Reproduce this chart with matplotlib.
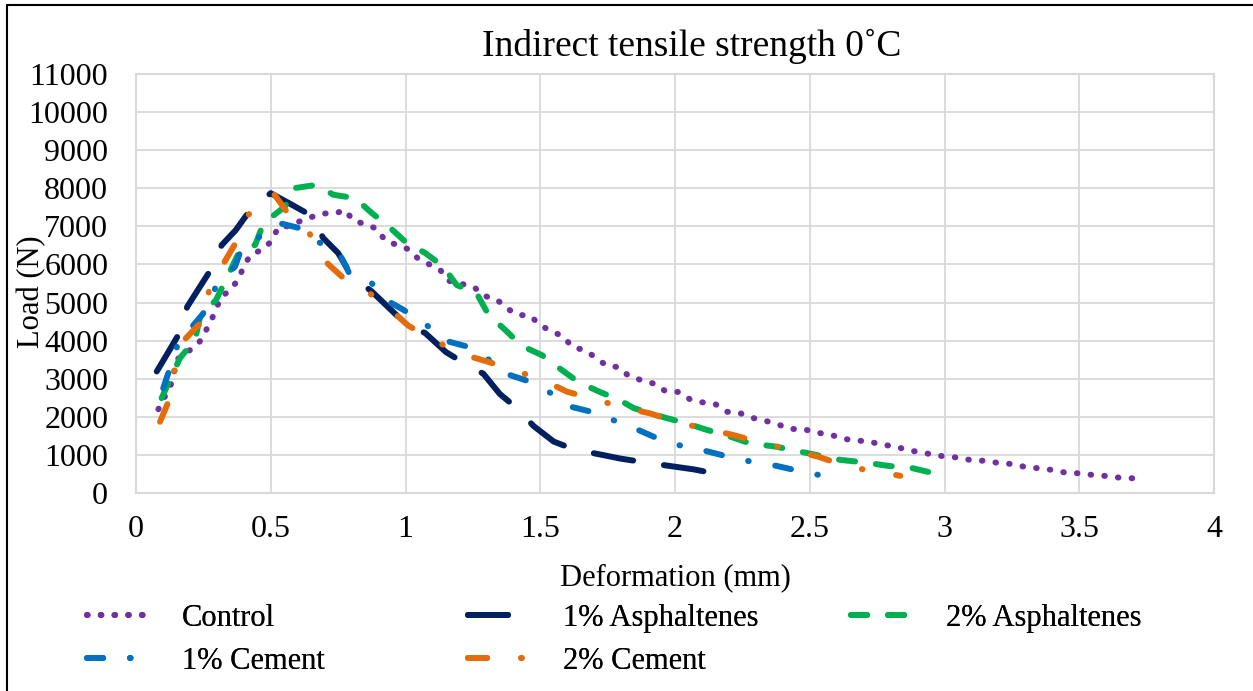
import matplotlib
matplotlib.use("Agg")
import matplotlib.pyplot as plt
from matplotlib.patches import Rectangle

plt.rcParams["font.family"] = ["Liberation Serif", "DejaVu Serif"]

# deformation (mm) / load (N)
ctrl_x = [0.083, 0.129, 0.153, 0.231, 0.256, 0.281, 0.315, 0.354, 0.383, 0.40, 0.427, 0.472,
          0.506, 0.527, 0.568, 0.612, 0.69, 0.735, 0.776, 0.807, 0.854, 0.895, 0.924, 0.969,
          1.011, 1.045, 1.088, 1.129, 1.16, 1.21, 1.253, 1.29, 1.338, 1.373, 1.414, 1.463,
          1.499, 1.542, 1.585, 1.618, 1.665, 1.705, 1.744, 1.793, 1.828, 1.877, 1.923, 1.964,
          2.014, 2.054, 2.101, 2.149, 2.192, 2.24, 2.285, 2.334, 2.381, 2.428, 2.477, 2.524,
          2.574, 2.618, 2.668, 2.717, 2.767, 2.816, 2.861, 2.912, 2.96, 3.009, 3.058, 3.106,
          3.157, 3.205, 3.255, 3.304, 3.354, 3.401, 3.45, 3.502, 3.551, 3.601, 3.65, 3.70]
ctrl_y = [2200, 2835, 3510, 3910, 4220, 4560, 5136, 5360, 5650, 5966, 6265, 6396,
          6640, 6974, 7008, 7147, 7341, 7331, 7428, 7147, 7052, 6929, 6632, 6509,
          6400, 6165, 6003, 5853, 5572, 5486, 5415, 5179, 5084, 4864, 4680, 4654,
          4409, 4243, 4113, 3840, 3745, 3562, 3352, 3299, 3071, 2958, 2869, 2677,
          2651, 2467, 2381, 2336, 2134, 2100, 1976, 1898, 1803, 1680, 1680, 1583,
          1540, 1436, 1373, 1365, 1260, 1234, 1121, 1076, 997, 953, 927, 848,
          848, 779, 761, 674, 648, 604, 533, 517, 472, 446, 402, 386]

asp1_x = [0.077, 0.12, 0.163, 0.19, 0.281, 0.318, 0.37, 0.429, 0.5, 0.57, 0.646, 0.695,
          0.75, 0.8, 0.875, 0.94, 1.005, 1.073, 1.15, 1.215, 1.289, 1.35, 1.413, 1.475,
          1.55, 1.623, 1.716, 1.8, 1.893, 1.98, 2.07, 2.156]
asp1_y = [3190, 3700, 4220, 4890, 5900, 6510, 6900, 7480, 7870, 7600, 7300, 6690,
          6300, 5700, 5290, 4850, 4410, 4200, 3700, 3420, 3130, 2600, 2230, 1760,
          1350, 1150, 1020, 900, 800, 710, 620, 500]

asp2_x = [0.095, 0.114, 0.163, 0.219, 0.238, 0.297, 0.337, 0.386, 0.442, 0.473, 0.553, 0.584,
          0.671, 0.732, 0.813, 0.875, 0.937, 0.999, 1.073, 1.138, 1.19, 1.265, 1.308, 1.37,
          1.432, 1.506, 1.576, 1.642, 1.719, 1.797, 1.846, 1.957, 2.042, 2.112, 2.205, 2.279,
          2.372, 2.465, 2.53, 2.613, 2.706, 2.793, 2.873, 2.96]
asp2_y = [2490, 2790, 3540, 4020, 4630, 5070, 5640, 6380, 6510, 7080, 7520, 8000,
          8090, 7830, 7740, 7350, 7000, 6600, 6300, 5960, 5460, 5230, 4680, 4280,
          3860, 3620, 3250, 2910, 2660, 2430, 2230, 1990, 1830, 1670, 1480, 1300,
          1220, 1085, 990, 870, 800, 710, 665, 520]

cem1_x = [0.101, 0.126, 0.155, 0.2, 0.24, 0.268, 0.297, 0.33, 0.367, 0.392, 0.47, 0.535,
          0.609, 0.673, 0.751, 0.794, 0.873, 0.937, 0.992, 1.073, 1.147, 1.221, 1.302, 1.373,
          1.45, 1.533, 1.611, 1.685, 1.776, 1.859, 1.933, 2.023, 2.116, 2.199, 2.285, 2.378,
          2.465, 2.551]
cem1_y = [2750, 3280, 3900, 4300, 4630, 4890, 5440, 5700, 5940, 6430, 6780, 7080,
          6950, 6600, 6340, 5730, 5520, 5030, 4810, 4440, 4000, 3860, 3540, 3130,
          2950, 2650, 2270, 2140, 1900, 1670, 1440, 1240, 1100, 950, 820, 710,
          570, 450]

cem2_x = [0.089, 0.126, 0.145, 0.182, 0.244, 0.271, 0.322, 0.371, 0.419, 0.51, 0.559, 0.642,
          0.693, 0.764, 0.859, 0.945, 1.011, 1.11, 1.213, 1.304, 1.409, 1.514, 1.599, 1.71,
          1.819, 1.908, 2.019, 2.128, 2.217, 2.332, 2.444, 2.533, 2.644, 2.755, 2.836]
cem2_y = [1870, 2490, 3290, 4040, 4500, 5310, 5990, 6580, 7320, 7870, 7390, 6840,
          6140, 5680, 5290, 4810, 4390, 3990, 3640, 3450, 3210, 2950, 2660, 2440,
          2230, 2090, 1830, 1670, 1520, 1300, 1110, 950, 680, 560, 450]

fig = plt.figure(figsize=(12.53, 6.91), dpi=100)
ax = fig.add_axes([136 / 1253, 1 - 493 / 691, 1078 / 1253, 419 / 691])

lw = 4.3
kw = dict(lw=lw, dash_capstyle="round", solid_capstyle="round")
l_ctrl, = ax.plot(ctrl_x, ctrl_y, color="#7030A0", dashes=(0.1, 2.2), label="Control", **kw)
l_a1, = ax.plot(asp1_x, asp1_y, color="#002060", dashes=(6.7, 5.2), label="1% Asphaltenes", **kw)
l_a2, = ax.plot(asp2_x, asp2_y, color="#00B050", dashes=(2.7, 3.5), label="2% Asphaltenes", **kw)
l_c1, = ax.plot(cem1_x, cem1_y, color="#0070C0", dashes=(2.7, 4.5, 0.1, 4.5), label="1% Cement", **kw)
l_c2, = ax.plot(cem2_x, cem2_y, color="#E46C0A", dashes=(3.2, 5.7, 0.1, 5.7), label="2% Cement", **kw)

ax.set_xlim(0, 4)
ax.set_ylim(0, 11000)
ax.set_xticks([0, 0.5, 1, 1.5, 2, 2.5, 3, 3.5, 4])
ax.set_xticklabels(["0", "0.5", "1", "1.5", "2", "2.5", "3", "3.5", "4"])
ax.set_yticks(range(0, 11001, 1000))
ax.tick_params(length=0, labelsize=23, colors="black")
ax.tick_params(axis="y", pad=20)
ax.tick_params(axis="x", pad=16)
ax.grid(True, color="#d9d9d9", lw=1.3)
ax.set_axisbelow(True)
for s in ax.spines.values():
    s.set_color("#d9d9d9")
    s.set_linewidth(1.5)

ax.set_xlabel("Deformation (mm)", fontsize=22, va="center")
ax.xaxis.set_label_coords(0.5, -(578 - 493) / 419)
ax.set_ylabel("Load (N)", fontsize=22, va="center")
ax.yaxis.set_label_coords(-(136 - 32) / 1078, (493 - 292) / 419)

fig.text(692 / 1253, 1 - 46 / 691, "Indirect tensile strength 0˚C", fontsize=27,
         ha="center", va="center")

# Excel-style legend: three equal-width columns below the plot
cols = [([l_ctrl, l_c1], 87), ([l_a1, l_c2], 468), ([l_a2], 851)]
for handles, x0 in cols:
    leg = fig.legend(handles=handles, loc="upper left", bbox_to_anchor=(x0 / 1253, 1 - 604 / 691),
                     frameon=False, fontsize=22, handlelength=2.0, handletextpad=1.1,
                     borderaxespad=0, borderpad=0, labelspacing=0.45)
    fig.add_artist(leg)

fig.add_artist(Rectangle((6.5 / 1253, -0.05), 1.1, (691 - 5.5) / 691 + 0.05,
                         transform=fig.transFigure, fill=False, ec="black", lw=1.5))

fig.savefig("out.png", dpi=100)
